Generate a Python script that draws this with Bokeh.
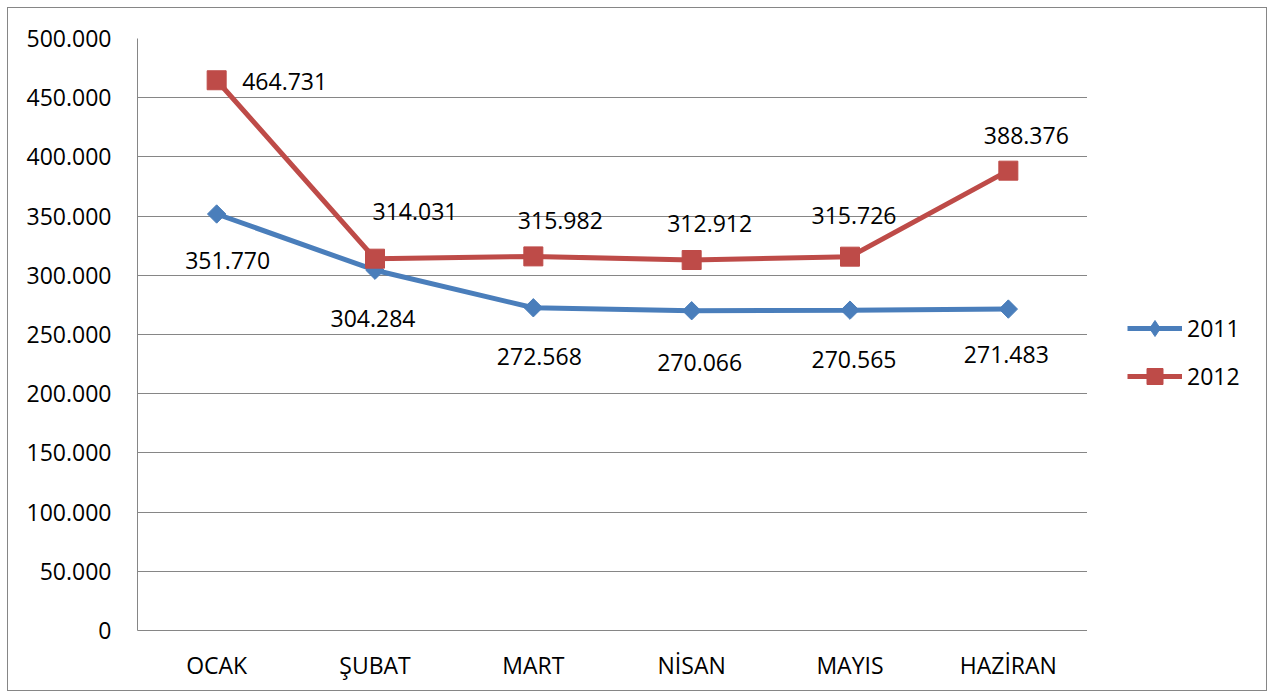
import numpy as np
from bokeh.plotting import figure
from bokeh.layouts import row
from bokeh.models import (ColumnDataSource, FactorRange, FixedTicker, CustomJSTickFormatter,
                          Legend, LegendItem, Range1d)
from bokeh.core.properties import value
from bokeh.embed import file_html
from bokeh.resources import INLINE

# ---- data ----
months = ["OCAK", "ŞUBAT", "MART", "NİSAN", "MAYIS", "HAZİRAN"]
values_2011 = [351770, 304284, 272568, 270066, 270565, 271483]
values_2012 = [464731, 314031, 315982, 312912, 315726, 388376]
series_names = ["2011", "2012"]
y_ticks = [0, 50000, 100000, 150000, 200000, 250000, 300000, 350000, 400000, 450000, 500000]

# label screen offsets (pixels, +y = down)
lab_dx_2011 = [11, -2, 6, 8, 4, -2]
lab_dy_2011 = [46, 48, 49, 52, 49, 45]
lab_dx_2012 = [68, 40, 27, 18, 4, 18]
lab_dy_2012 = [1, -47, -36, -37, -41, -35]

FONT = "Open Sans"
FS = "23px"
BLUE = "#4A7EBB"
RED = "#BE4B48"
GRID = "#868686"
H = 682


def fmt(v):
    return f"{v:,}".replace(",", ".")


src11 = ColumnDataSource(dict(x=months, y=values_2011, lab=[fmt(v) for v in values_2011],
                              dx=lab_dx_2011, dy=lab_dy_2011))
src12 = ColumnDataSource(dict(x=months, y=values_2012, lab=[fmt(v) for v in values_2012],
                              dx=lab_dx_2012, dy=lab_dy_2012))

p = figure(x_range=FactorRange(*months, range_padding=0), y_range=(0, 500000),
           width=1079, height=H, output_backend="svg", toolbar_location=None,
           min_border_left=129, min_border_right=0, min_border_top=30, min_border_bottom=60)
p.outline_line_color = None
p.background_fill_color = "white"
p.border_fill_color = "white"

# axes
p.yaxis.ticker = FixedTicker(ticks=y_ticks)
p.yaxis.formatter = CustomJSTickFormatter(
    code="return Math.round(tick).toString().replace(/\\B(?=(\\d{3})+(?!\\d))/g, '.');")
for ax in (p.xaxis, p.yaxis):
    ax.axis_line_color = GRID
    ax.axis_line_width = 1
    ax.major_tick_line_color = None
    ax.minor_tick_line_color = None
    ax.major_tick_in = 0
    ax.major_tick_out = 0
    ax.major_label_text_font = FONT
    ax.major_label_text_font_size = FS
    ax.major_label_text_color = "black"
p.yaxis.major_label_standoff = 26
p.xaxis.major_label_standoff = 18

p.xgrid.grid_line_color = None
p.ygrid.grid_line_color = GRID
p.ygrid.grid_line_width = 1

# series
p.line("x", "y", source=src11, line_color=BLUE, line_width=5)
p.scatter("x", "y", source=src11, marker="square", angle=np.pi / 4, size=13,
          fill_color=BLUE, line_color=BLUE)
p.line("x", "y", source=src12, line_color=RED, line_width=5)
p.scatter("x", "y", source=src12, marker="square", size=19,
          fill_color=RED, line_color=RED)

# data labels
for s in (src11, src12):
    p.text("x", "y", text="lab", source=s, x_offset="dx", y_offset="dy",
           text_align="center", text_baseline="middle", text_font=value(FONT),
           text_font_size=FS, text_color="black")

# ---- legend panel (right side of the chart area) ----
q = figure(width=179, height=H, output_backend="svg", toolbar_location=None,
           x_axis_type=None, y_axis_type=None, min_border=0,
           x_range=Range1d(0, 1), y_range=Range1d(0, 1))
q.outline_line_color = None
q.grid.visible = False
q.background_fill_color = "white"
q.border_fill_color = "white"

# legend-only renderers (no drawable points)
leg11 = ColumnDataSource(dict(x=[np.nan], y=[np.nan]))
leg12 = ColumnDataSource(dict(x=[np.nan], y=[np.nan]))
ql11 = q.line("x", "y", source=leg11, line_color=BLUE, line_width=5)
qm11 = q.scatter("x", "y", source=leg11, marker="diamond", size=19,
                 fill_color=BLUE, line_color=BLUE)
ql12 = q.line("x", "y", source=leg12, line_color=RED, line_width=5)
qm12 = q.scatter("x", "y", source=leg12, marker="square", size=19,
                 fill_color=RED, line_color=RED)

legend = Legend(items=[LegendItem(label=series_names[0], renderers=[ql11, qm11]),
                       LegendItem(label=series_names[1], renderers=[ql12, qm12])],
                location=(40, 234), orientation="vertical",
                glyph_width=55, glyph_height=40, label_height=40, spacing=8,
                label_standoff=5, padding=0, margin=0,
                border_line_color=None, background_fill_alpha=0,
                label_text_font=FONT, label_text_font_size=FS, label_text_color="black")
q.add_layout(legend, "center")

layout = row(p, q, spacing=0, styles={"border": "1px solid #868686", "margin": "7px 0 0 7px"})

open("out.html", "w").write(file_html(layout, INLINE))
